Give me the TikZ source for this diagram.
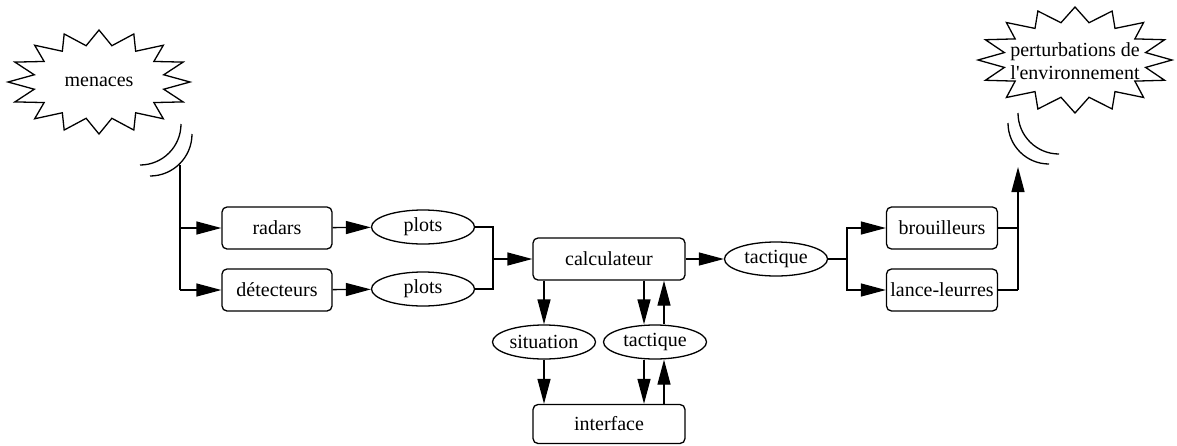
\documentclass[tikz,border=0pt]{standalone}
\usepackage{fontspec}
\setmainfont{Liberation Serif}
\usetikzlibrary{shapes, arrows.meta, positioning}

% eclat a 16 pointes : centre x, centre y, demi-largeur, demi-hauteur
\newcommand{\eclat}[4]{%
	\draw ({#1+#3},{#2}) \foreach \k in {1,...,31}{ -- ({#1+(#3-isodd(\k)*25)*cos(\k*11.25)},{#2-(#4-isodd(\k)*15)*sin(\k*11.25)})} -- cycle;}

\tikzset{
	blockbox/.style={draw, rounded corners=5pt, minimum width=110pt, minimum height=42pt, inner sep=3pt},
	databulle/.style={draw, ellipse, minimum width=103pt, minimum height=34pt, inner sep=1pt},
	fleche/.style={-{Triangle[length=25pt, width=13pt]}},
}

\begin{document}
\begin{tikzpicture}[x=1pt, y=-1pt, line width=1.3pt, font=\fontsize{20}{23}\selectfont]
				\useasboundingbox (0,0) rectangle (1177,445);
				
				\eclat{99}{82}{91}{52}
				\eclat{1075}{60}{97}{53}
				\node (menaces) at (99,82) {menaces};
				\node[align=center, inner sep=0pt] (perturb) at (1075,61) {perturbations de\\l\textquotesingle environnement};
				
				\node[blockbox] (radars) at (277,228) {radars};
				\node[blockbox] (detecteurs) at (277,290) {détecteurs};
				\node[databulle] (plotsa) at (423,227) {plots};
				\node[databulle] (plotsb) at (423,289) {plots};
				\node[blockbox, minimum width=152pt] (calculateur) at (609,259) {calculateur};
				\node[databulle] (tactiquea) at (776,259) {tactique};
				\node[blockbox, minimum width=111pt] (brouilleurs) at (942,228) {brouilleurs};
				\node[blockbox, minimum width=111pt] (leurres) at (942,290) {lance-leurres};
				\node[databulle] (situation) at (544,342) {situation};
				\node[databulle] (tactiqueb) at (655,342) {tactique};
				\node[blockbox, minimum width=152pt, minimum height=39pt] (interface) at (609,424) {interface};
				
				% antennes
				\draw (181,124) arc[start angle=0, end angle=90, radius=41];
				\draw (192,134) arc[start angle=0, end angle=90, radius=42];
				\draw (1018,113) arc[start angle=180, end angle=90, radius=41];
				\draw (1008,123) arc[start angle=180, end angle=90, radius=41];
				
				\coordinate (antg) at (180,165);
				\coordinate (jg1) at (180,228);
				\coordinate (jg2) at (180,290);
				\coordinate (jp1) at (493,227);
				\coordinate (jp2) at (493,289);
				\coordinate (jp) at (493,259);
				\coordinate (jt) at (847,259);
				\coordinate (jt1) at (847,228);
				\coordinate (jt2) at (847,290);
				\coordinate (jb1) at (1018,228);
				\coordinate (jb2) at (1018,290);
				\coordinate (antd) at (1018,167);
				\coordinate (cbas) at (644,0);
				\coordinate (chaut) at (664,0);
				
				\draw (antg) -- (jg2);
				\draw[fleche] (jg1) -- (radars.west);
				\draw[fleche] (jg2) -- (detecteurs.west);
				\draw[fleche] (radars) -- (plotsa);
				\draw[fleche] (detecteurs) -- (plotsb);
				\draw (plotsa) -- (jp1);
				\draw (plotsb) -- (jp2);
				\draw[shorten <=-1pt, shorten >=-1pt] (jp1) -- (jp2);
				\draw[fleche] (jp) -- (calculateur.west);
				\draw[fleche] (calculateur) -- (tactiquea);
				\draw (tactiquea) -- (jt);
				\draw[shorten <=-1pt, shorten >=-1pt] (jt1) -- (jt2);
				\draw[fleche] (jt1) -- (brouilleurs.west);
				\draw[fleche] (jt2) -- (leurres.west);
				\draw (brouilleurs) -- (jb1);
				\draw (leurres) -- (jb2);
				\draw[fleche] (jb2) -- (antd);
				
				\draw[fleche] (calculateur.south -| situation.north) -- (situation.north);
				\draw[fleche] (situation.south) -- (interface.north -| situation.south);
				\draw[fleche] (calculateur.south -| cbas) -- (tactiqueb.north -| cbas);
				\draw[fleche] (tactiqueb.north -| chaut) -- (calculateur.south -| chaut);
				\draw[fleche] (tactiqueb.south -| cbas) -- (interface.north -| cbas);
				\draw[fleche] (interface.north -| chaut) -- (tactiqueb.south -| chaut);
			\end{tikzpicture}
\end{document}
